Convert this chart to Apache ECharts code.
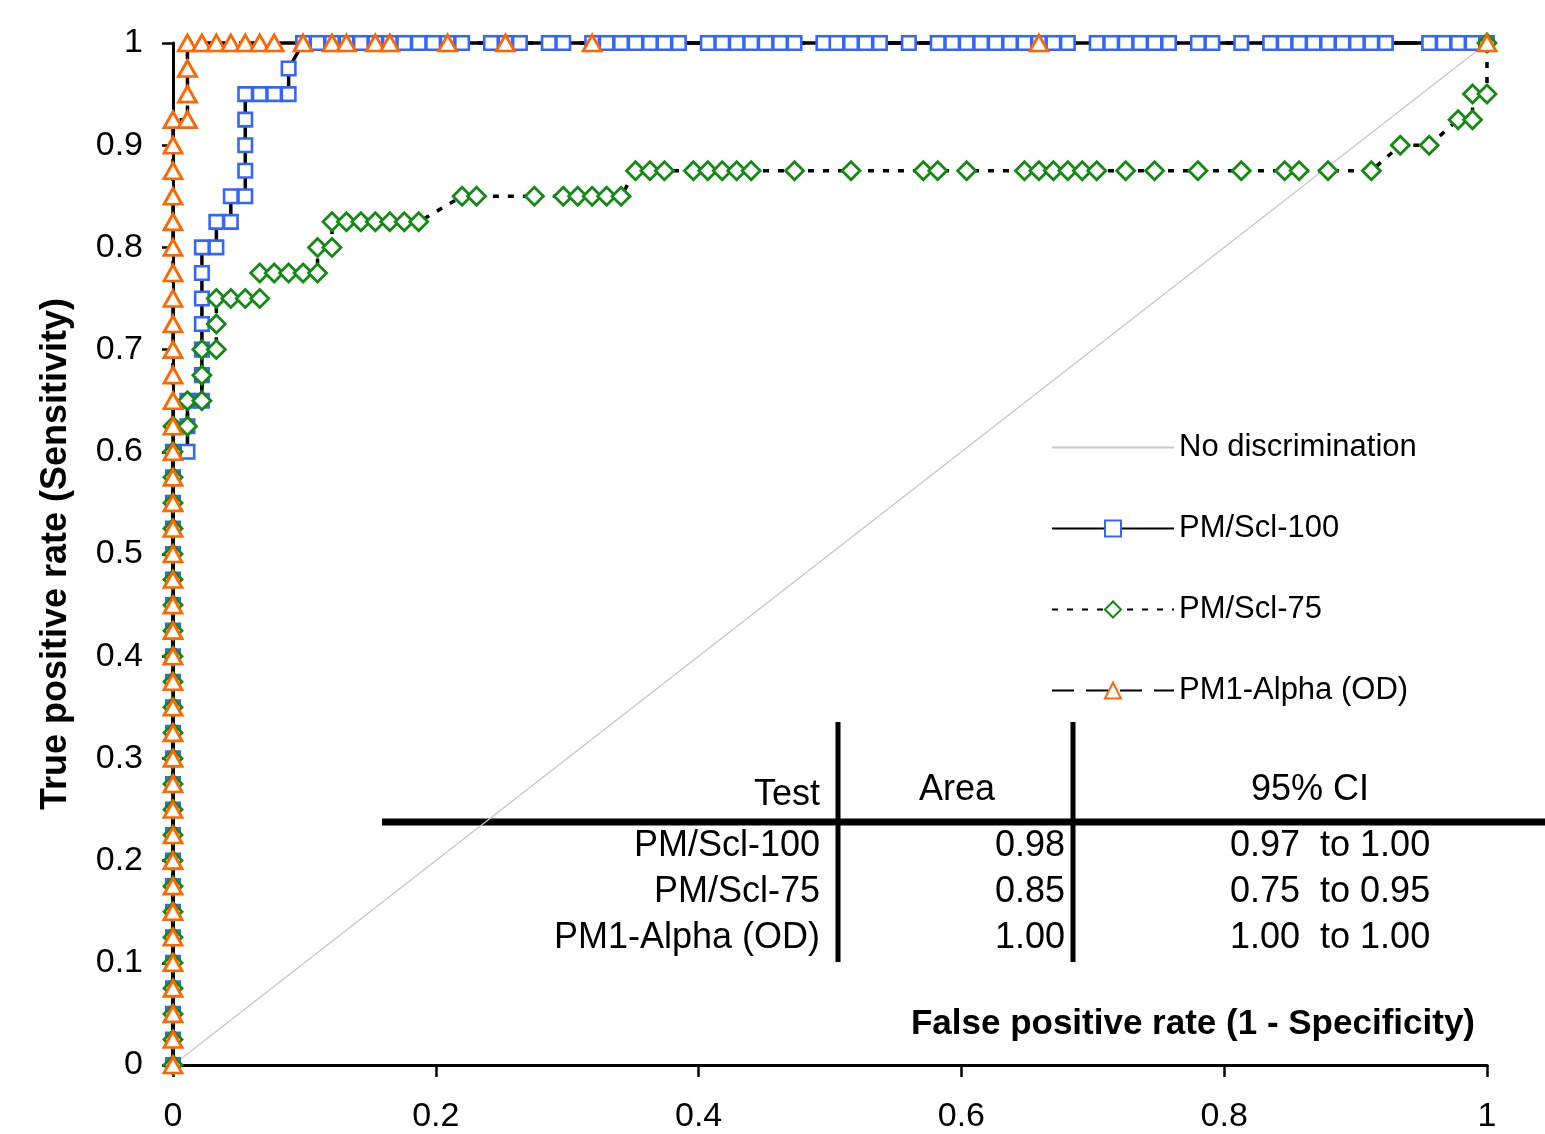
<!DOCTYPE html>
<html>
<head>
<meta charset="utf-8">
<title>ROC curves</title>
<script src="https://cdn.jsdelivr.net/npm/echarts@6.0.0/dist/echarts.min.js"></script>
<style>
  html, body { margin: 0; padding: 0; background: #fff; }
  #chartRoc { width: 1545px; height: 1134px; }
</style>
</head>
<body>
<div id="chartRoc"></div>
<script>
// points: [false positive rate, true positive rate]
const diagonalPoints = [[0, 0], [1, 1]]

const scl100Points = [
  [0, 0], [0, 0.025], [0, 0.05], [0, 0.075], [0, 0.1], [0, 0.125], [0, 0.15], [0, 0.175],
  [0, 0.2], [0, 0.225], [0, 0.25], [0, 0.275], [0, 0.3], [0, 0.325], [0, 0.35], [0, 0.375],
  [0, 0.4], [0, 0.425], [0, 0.45], [0, 0.475], [0, 0.5], [0, 0.525], [0, 0.55], [0, 0.575], [0, 0.6],
  [0.011, 0.6], [0.011, 0.625], [0.011, 0.65], [0.022, 0.65], [0.022, 0.675], [0.022, 0.7],
  [0.022, 0.725], [0.022, 0.75], [0.022, 0.775], [0.022, 0.8], [0.033, 0.8], [0.033, 0.825],
  [0.044, 0.825], [0.044, 0.85], [0.055, 0.85], [0.055, 0.875], [0.055, 0.9], [0.055, 0.925],
  [0.055, 0.95], [0.066, 0.95], [0.077, 0.95], [0.088, 0.95], [0.088, 0.975],
  [0.099, 1], [0.110, 1], [0.121, 1], [0.132, 1], [0.143, 1], [0.154, 1], [0.165, 1], [0.176, 1],
  [0.187, 1], [0.198, 1], [0.209, 1], [0.220, 1], [0.242, 1], [0.253, 1], [0.264, 1],
  [0.286, 1], [0.297, 1], [0.319, 1], [0.330, 1], [0.341, 1], [0.352, 1], [0.363, 1], [0.374, 1],
  [0.385, 1], [0.407, 1], [0.418, 1], [0.429, 1], [0.440, 1], [0.451, 1], [0.462, 1], [0.473, 1],
  [0.495, 1], [0.505, 1], [0.516, 1], [0.527, 1], [0.538, 1], [0.560, 1],
  [0.582, 1], [0.593, 1], [0.604, 1], [0.615, 1], [0.626, 1], [0.637, 1], [0.648, 1], [0.659, 1],
  [0.670, 1], [0.681, 1], [0.703, 1], [0.714, 1], [0.725, 1], [0.736, 1], [0.747, 1], [0.758, 1],
  [0.780, 1], [0.791, 1], [0.813, 1], [0.835, 1], [0.846, 1], [0.857, 1], [0.868, 1], [0.879, 1],
  [0.890, 1], [0.901, 1], [0.912, 1], [0.923, 1], [0.956, 1], [0.967, 1], [0.978, 1], [0.989, 1], [1, 1]
]

const scl75Points = [
  [0, 0], [0, 0.025], [0, 0.05], [0, 0.075], [0, 0.1], [0, 0.125], [0, 0.15], [0, 0.175],
  [0, 0.2], [0, 0.225], [0, 0.25], [0, 0.275], [0, 0.3], [0, 0.325], [0, 0.35], [0, 0.375],
  [0, 0.4], [0, 0.425], [0, 0.45], [0, 0.475], [0, 0.5], [0, 0.525], [0, 0.55], [0, 0.575],
  [0, 0.6], [0, 0.625],
  [0.011, 0.625], [0.011, 0.65], [0.022, 0.65], [0.022, 0.675], [0.022, 0.7], [0.033, 0.7],
  [0.033, 0.725], [0.033, 0.75], [0.044, 0.75], [0.055, 0.75], [0.066, 0.75], [0.066, 0.775],
  [0.077, 0.775], [0.088, 0.775], [0.099, 0.775], [0.110, 0.775], [0.110, 0.8], [0.121, 0.8],
  [0.121, 0.825], [0.132, 0.825], [0.143, 0.825], [0.154, 0.825], [0.165, 0.825], [0.176, 0.825],
  [0.187, 0.825], [0.220, 0.85], [0.231, 0.85], [0.275, 0.85], [0.297, 0.85], [0.308, 0.85],
  [0.319, 0.85], [0.330, 0.85], [0.341, 0.85], [0.352, 0.875], [0.363, 0.875], [0.374, 0.875],
  [0.396, 0.875], [0.407, 0.875], [0.418, 0.875], [0.429, 0.875], [0.440, 0.875], [0.473, 0.875],
  [0.516, 0.875], [0.571, 0.875], [0.582, 0.875], [0.604, 0.875], [0.648, 0.875], [0.659, 0.875],
  [0.670, 0.875], [0.681, 0.875], [0.692, 0.875], [0.703, 0.875], [0.725, 0.875], [0.747, 0.875],
  [0.780, 0.875], [0.813, 0.875], [0.846, 0.875], [0.857, 0.875], [0.879, 0.875], [0.912, 0.875],
  [0.934, 0.9], [0.956, 0.9], [0.978, 0.925], [0.989, 0.925], [0.989, 0.95], [1, 0.95], [1, 1]
]

const pm1AlphaPoints = [
  [0, 0], [0, 0.025], [0, 0.05], [0, 0.075], [0, 0.1], [0, 0.125], [0, 0.15], [0, 0.175],
  [0, 0.2], [0, 0.225], [0, 0.25], [0, 0.275], [0, 0.3], [0, 0.325], [0, 0.35], [0, 0.375],
  [0, 0.4], [0, 0.425], [0, 0.45], [0, 0.475], [0, 0.5], [0, 0.525], [0, 0.55], [0, 0.575],
  [0, 0.6], [0, 0.625], [0, 0.65], [0, 0.675], [0, 0.7], [0, 0.725], [0, 0.75], [0, 0.775],
  [0, 0.8], [0, 0.825], [0, 0.85], [0, 0.875], [0, 0.9], [0, 0.925],
  [0.011, 0.925], [0.011, 0.95], [0.011, 0.975], [0.011, 1], [0.022, 1], [0.033, 1], [0.044, 1],
  [0.055, 1], [0.066, 1], [0.077, 1], [0.099, 1], [0.121, 1], [0.132, 1], [0.154, 1], [0.165, 1],
  [0.209, 1], [0.253, 1], [0.319, 1], [0.659, 1], [1, 1]
]

// summary table under the legend
const tableHeaders = ['Test', 'Area', '95% CI']
const tableTests = ['PM/Scl-100', 'PM/Scl-75', 'PM1-Alpha (OD)']
const tableAreas = ['0.98', '0.85', '1.00']
const tableCIs = ['0.97  to 1.00', '0.75  to 0.95', '1.00  to 1.00']

const FONT = '"Liberation Sans", Arial, Helvetica, sans-serif'

function buildTable () {
  let els = []
  const rowY = [846, 892, 938]
  els.push({ type: 'line', shape: { x1: 382, y1: 822, x2: 1545, y2: 822 }, style: { stroke: '#000', lineWidth: 7 } })
  els.push({ type: 'line', shape: { x1: 838, y1: 722, x2: 838, y2: 962 }, style: { stroke: '#000', lineWidth: 5 } })
  els.push({ type: 'line', shape: { x1: 1073, y1: 722, x2: 1073, y2: 962 }, style: { stroke: '#000', lineWidth: 5 } })
  const textStyle = (text, align) => ({ text: text, font: '36px ' + FONT, fill: '#000', align: align, verticalAlign: 'middle' })
  els.push({ type: 'text', x: 820, y: 795, style: textStyle(tableHeaders[0], 'right') })
  els.push({ type: 'text', x: 957, y: 790, style: textStyle(tableHeaders[1], 'center') })
  els.push({ type: 'text', x: 1310, y: 790, style: textStyle(tableHeaders[2], 'center') })
  for (let i = 0; i < tableTests.length; i++) {
    els.push({ type: 'text', x: 820, y: rowY[i], style: textStyle(tableTests[i], 'right') })
    els.push({ type: 'text', x: 1065, y: rowY[i], style: textStyle(tableAreas[i], 'right') })
    els.push({ type: 'text', x: 1230, y: rowY[i], style: textStyle(tableCIs[i], 'left') })
  }
  return els
}

const chartRoc = echarts.init(document.getElementById('chartRoc'))
chartRoc.setOption({
  animation: false,
  textStyle: { fontFamily: FONT },
  grid: { left: 173, right: 58, top: 43, bottom: 68 },
  legend: {
    orient: 'vertical',
    left: 1046,
    top: 427,
    itemWidth: 122,
    itemHeight: 20,
    itemGap: 50,
    textStyle: { fontSize: 31, color: '#000', fontFamily: FONT },
    data: [
      { name: 'No discrimination', itemStyle: { opacity: 0 } },
      'PM/Scl-100', 'PM/Scl-75', 'PM1-Alpha (OD)'
    ]
  },
  xAxis: {
    type: 'value',
    min: 0,
    max: 1,
    interval: 0.2,
    name: 'False positive rate (1 - Specificity)',
    nameLocation: 'end',
    nameGap: -12,
    nameTextStyle: { fontSize: 35, fontWeight: 'bold', color: '#000', align: 'right', verticalAlign: 'bottom', padding: [0, 0, 23, 0] },
    splitLine: { show: false },
    axisLine: { lineStyle: { color: '#000', width: 3 } },
    axisTick: { length: 12, lineStyle: { color: '#000', width: 2.5 } },
    axisLabel: { fontSize: 34, color: '#000', margin: 35 }
  },
  yAxis: {
    type: 'value',
    min: 0,
    max: 1,
    interval: 0.1,
    name: 'True positive rate (Sensitivity)',
    nameLocation: 'middle',
    nameGap: 99,
    nameTextStyle: { fontSize: 36, fontWeight: 'bold', color: '#000' },
    splitLine: { show: false },
    axisLine: { lineStyle: { color: '#000', width: 3 } },
    axisTick: { length: 11, lineStyle: { color: '#000', width: 2.5 } },
    axisLabel: { fontSize: 34, color: '#000', margin: 30 }
  },
  series: [
    {
      name: 'No discrimination',
      type: 'line',
      data: diagonalPoints,
      showSymbol: false,
      symbol: 'none',
      lineStyle: { color: '#c8c8c8', width: 1.2 },
      itemStyle: { color: 'rgba(0,0,0,0)' }
    },
    {
      name: 'PM/Scl-100',
      type: 'line',
      data: scl100Points,
      clip: false,
      showAllSymbol: true,
      symbol: 'rect',
      symbolSize: 13.5,
      lineStyle: { color: '#000', width: 3.5, type: 'solid' },
      itemStyle: { color: '#fff', borderColor: '#3366ff', borderWidth: 2.6 }
    },
    {
      name: 'PM/Scl-75',
      type: 'line',
      data: scl75Points,
      clip: false,
      showAllSymbol: true,
      symbol: 'diamond',
      symbolSize: 18,
      lineStyle: { color: '#000', width: 3.5, type: [6, 9] },
      itemStyle: { color: '#fff', borderColor: '#138a13', borderWidth: 2.8 }
    },
    {
      name: 'PM1-Alpha (OD)',
      type: 'line',
      data: pm1AlphaPoints,
      clip: false,
      showAllSymbol: true,
      symbol: 'triangle',
      symbolSize: [18, 16],
      lineStyle: { color: '#000', width: 3.5, type: [22, 12] },
      itemStyle: { color: '#fff', borderColor: '#ff6600', borderWidth: 2.8 }
    }
  ],
  graphic: buildTable()
})
</script>
</body>
</html>
